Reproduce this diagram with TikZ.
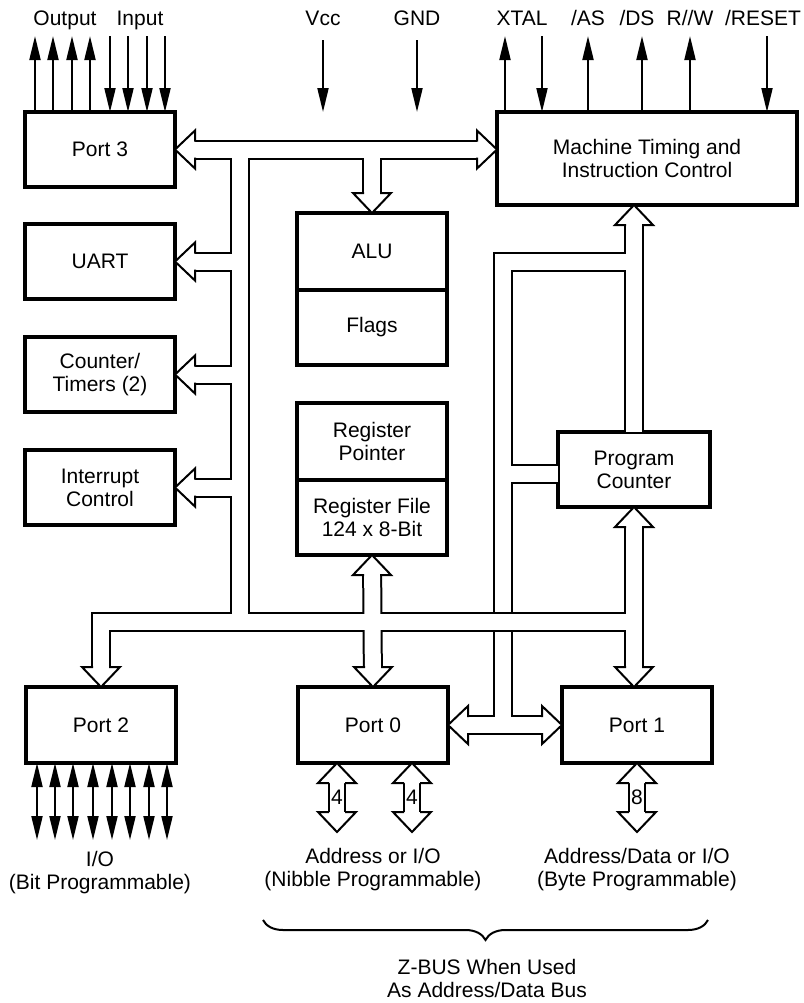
\documentclass[tikz,border=0pt]{standalone}
\usepackage{fontspec}
\setmainfont{Liberation Sans}
\usetikzlibrary{positioning, arrows.meta, decorations.pathreplacing}
\tikzset{
	bushead/.pic = {
	 \fill [white] (0,0) -- (-20,19) -- (-20,-19) -- cycle;
	 \draw [line width=1pt, line join=miter] (-20,8) -- (-20,19) -- (0,0) -- (-20,-19) -- (-20,-8);}}
\tikzset{
	blk/.style = {draw, line width=2pt, outer sep=0pt, inner sep=0pt, align=center,
	 minimum width=75pt, minimum height=37.5pt},
	busblk/.style = {line width=10pt, black},
	buswht/.style = {line width=8pt, white},
	sbusblk/.style = {line width=9pt, black},
	sbuswht/.style = {line width=7pt, white},
	tipS/.style = {shorten <=10pt},
	tipE/.style = {shorten >=10pt},
	tri/.tip = {Triangle[length=12pt, width=5.5pt]},
	pin/.style = {line width=1pt, -tri},
	biopin/.style = {line width=1pt, tri-tri}}

\begin{document}
\begin{tikzpicture}[x=0.5pt, y=-0.5pt, font=\fontsize{10.5}{11.5}\selectfont, line width=1pt]
\useasboundingbox (0,0) rectangle (804,1003);

% BLOCKS
\node (p3) [blk] at (100,149.5) {Port 3};
\node (uart) [blk] at (100,261.5) {UART};
\node (ctr) [blk] at (100,374.5) {Counter/\\Timers (2)};
\node (intr) [blk] at (100,487.5) {Interrupt\\Control};
\node (p2) [blk, minimum height=38pt] at (101,725) {Port 2};
\node (alu) [blk, minimum height=38.5pt] at (372,251.5) {ALU};
\node (flags) [blk, below=0pt of alu] {Flags};
\node (rp) [blk, minimum height=38.5pt] at (372,441.5) {Register\\Pointer};
\node (rf) [blk, below=0pt of rp] {Register File\\124 x 8-Bit};
\node (mt) [blk, minimum width=150pt, minimum height=46.5pt] at (647,158.5) {Machine Timing and\\Instruction Control};
\node (pc) [blk, minimum width=76pt] at (634,469.5) {Program\\Counter};
\node (p0) [blk, minimum height=38pt] at (373,725) {Port 0};
\node (p1) [blk, minimum height=38pt] at (637,725) {Port 1};

% PINS
\foreach \x in {35,53,72,90} \draw [pin] (\x,0 |- p3.north) -- (\x,36);
\foreach \x in {110,128,147,165} \draw [pin] (\x,36) -- (\x,0 |- p3.north);
\foreach \x in {505,588,642,690} \draw [pin] (\x,0 |- mt.north) -- (\x,36);
\foreach \x in {542,767} \draw [pin] (\x,36) -- (\x,0 |- mt.north);
\coordinate (vcc) at (323,112);
\coordinate (gnd) at (417,112);
\draw [pin] (vcc |- 0,40) -- (vcc);
\draw [pin] (gnd |- 0,40) -- (gnd);
\foreach \x in {37,55,73,93,112,130,149,167} \draw [biopin] (\x,0 |- p2.south) -- (\x,840);

\node (lout) [anchor=base] at (65,25) {Output};
\node (lin) [anchor=base] at (140,25) {Input};
\node (lvcc) [anchor=base] at (323,25) {Vcc};
\node (lgnd) [anchor=base] at (417,25) {GND};
\node (lxtal) [anchor=base] at (522,25) {XTAL};
\node (las) [anchor=base] at (588,25) {/AS};
\node (lds) [anchor=base] at (637,25) {/DS};
\node (lrw) [anchor=base] at (690,25) {R//W};
\node (lrst) [anchor=base] at (763,25) {/RESET};

% BUSES (right loop first, the bottom bus crosses over it)
\coordinate (brU) at (502.5,261.5);
\coordinate (brP) at (502.5,474);
\foreach \lay in {busblk, buswht} {
  \draw [\lay, tipE] (pc.north) -- (pc.north |- mt.south);
  \draw [\lay] (pc.north |- brU) -- (brU) -- (brU |- p0.east);
  \draw [\lay] (brP) -- (brP -| pc.west);
  \draw [\lay, tipS, tipE] (p0.east) -- (p1.west);
}
\coordinate (lch) at (240,149.5);
\coordinate (bot) at (240,622);
\foreach \lay in {busblk, buswht} {
  \draw [\lay, tipS, tipE] (p3.east) -- (mt.west |- p3.east);
  \draw [\lay, tipE] (alu.north |- p3.east) -- (alu.north);
  \draw [\lay] (lch) -- (bot);
  \foreach \b in {uart, ctr, intr} \draw [\lay, tipE] (lch |- \b.east) -- (\b.east);
  \draw [\lay, tipS] (p2.north) |- (pc.south |- bot);
  \draw [\lay, tipS, tipE] (rf.south) -- (p0.north);
  \draw [\lay, tipS, tipE] (pc.south) -- (pc.south |- p1.north);
}
\coordinate (a1) at (337,832);
\coordinate (a2) at (412,832);
\coordinate (a3) at (637,832);
\foreach \lay in {sbusblk, sbuswht}
  \foreach \a/\b in {a1/p0, a2/p0, a3/p1} \draw [\lay, tipS, tipE] (\a |- \b.south) -- (\a);

% HEADS
\pic [rotate=180] at (p3.east) {bushead};
\pic at (mt.west |- p3.east) {bushead};
\pic [rotate=-90] at (alu.north) {bushead};
\foreach \b in {uart, ctr, intr} \pic [rotate=180] at (\b.east) {bushead};
\pic [rotate=-90] at (p2.north) {bushead};
\pic [rotate=90] at (rf.south) {bushead};
\pic [rotate=-90] at (p0.north) {bushead};
\pic [rotate=90] at (pc.south) {bushead};
\pic [rotate=-90] at (pc.south |- p1.north) {bushead};
\pic [rotate=90] at (pc.north |- mt.south) {bushead};
\pic [rotate=180] at (p0.east) {bushead};
\pic at (p1.west) {bushead};
\foreach \a/\b in {a1/p0, a2/p0, a3/p1} {
  \pic [rotate=90] at (\a |- \b.south) {bushead};
  \pic [rotate=-90] at (\a) {bushead};
}
\node (w1) at (337,797) {4};
\node (w2) at (412,797) {4};
\node (w3) at (637,797) {8};

% LABELS
\node (lio) [anchor=base, align=center] at (100,889) {I/O\\(Bit Programmable)};
\node (lp0) [anchor=base, align=center] at (373,886) {Address or I/O\\(Nibble Programmable)};
\node (lp1) [anchor=base, align=center] at (637,886) {Address/Data or I/O\\(Byte Programmable)};
\draw [decorate, decoration={brace, amplitude=10pt}] (708,920) -- (263,920);
\node (lzbus) [anchor=base, align=center] at (487,997) {Z-BUS When Used\\As Address/Data Bus};

\end{tikzpicture}
\end{document}
